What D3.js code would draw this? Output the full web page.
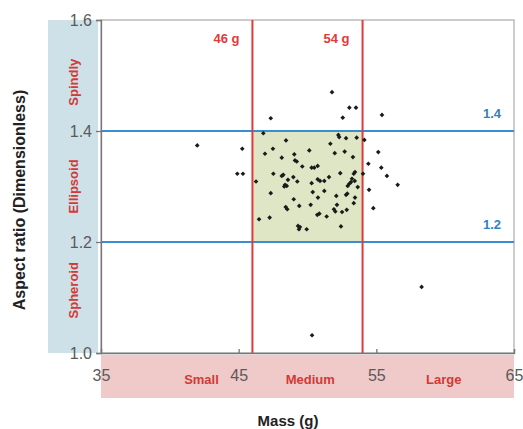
<!DOCTYPE html>
<html>
<head>
<meta charset="utf-8">
<script src="https://cdn.jsdelivr.net/npm/d3@7"></script>
<style>
  body { margin: 0; background: #fff; }
  text { font-family: "Liberation Sans", Arial, sans-serif; }
</style>
</head>
<body>
<script>
// data
var mass = [51.78, 53.04, 53.52, 52.56, 55.41, 47.33, 41.99, 45.26, 44.90, 45.31,
  46.79, 48.44, 52.24, 52.30, 52.80, 53.57, 54.13, 51.66, 46.91, 47.49,
  50.13, 51.98, 52.70, 55.14, 48.13, 49.04, 49.09, 49.22, 53.30, 54.42,
  49.62, 50.30, 50.49, 50.74, 55.36, 46.26, 47.52, 48.13, 48.24, 48.58,
  48.97, 49.26, 48.37, 48.49, 48.31, 50.30, 50.74, 50.91, 51.22, 51.56,
  52.38, 53.45, 53.36, 53.23, 52.92, 53.04, 53.16, 53.43, 53.65, 54.03,
  55.77, 56.55, 54.47, 47.33, 50.38, 51.22, 50.76, 49.00, 52.09, 52.80,
  52.89, 53.45, 53.36, 54.78, 48.42, 48.53, 49.40, 50.23, 52.14, 51.92,
  52.02, 52.51, 52.85, 50.71, 50.86, 51.39, 46.48, 47.25, 49.31, 49.45,
  49.38, 49.94, 52.43, 50.33, 58.29];
var ratio = [1.470, 1.442, 1.442, 1.424, 1.429, 1.423, 1.374, 1.368, 1.323, 1.323,
  1.396, 1.383, 1.393, 1.389, 1.387, 1.388, 1.384, 1.377, 1.359, 1.368,
  1.365, 1.360, 1.363, 1.362, 1.352, 1.358, 1.347, 1.345, 1.353, 1.341,
  1.336, 1.334, 1.334, 1.337, 1.334, 1.309, 1.323, 1.319, 1.321, 1.312,
  1.317, 1.309, 1.303, 1.301, 1.300, 1.306, 1.313, 1.310, 1.310, 1.317,
  1.324, 1.326, 1.323, 1.314, 1.301, 1.305, 1.308, 1.310, 1.299, 1.323,
  1.319, 1.303, 1.294, 1.288, 1.290, 1.292, 1.280, 1.277, 1.283, 1.285,
  1.287, 1.280, 1.270, 1.261, 1.263, 1.259, 1.265, 1.267, 1.267, 1.259,
  1.255, 1.254, 1.258, 1.249, 1.251, 1.246, 1.241, 1.244, 1.229, 1.227,
  1.223, 1.223, 1.228, 1.032, 1.119];

var xTicks = [35, 45, 55, 65];
var yTicks = [1.0, 1.2, 1.4, 1.6];
var massCuts = [46, 54];          // red lines
var ratioCuts = [1.2, 1.4];       // blue lines
var sizeNames = ["Small", "Medium", "Large"];
var sizeAt = [42.3, 50.2, 59.9];
var shapeNames = ["Spheroid", "Ellipsoid", "Spindly"];
var shapeAt = [1.113, 1.3, 1.488];

var W = 523, H = 429;
var svg = d3.select("body").append("svg")
    .attr("width", W)
    .attr("height", H);

var x = d3.scaleLinear().domain([35, 65]).range([101, 514]);
var y = d3.scaleLinear().domain([1.0, 1.6]).range([353, 20]);

var red = "#e2393b", blue = "#3a8dd0", textRed = "#d23a36";

// left blue band and bottom pink band
svg.append("rect")
  .attr("x", 48).attr("y", y(1.6))
  .attr("width", 50).attr("height", y(1.0) - y(1.6))
  .attr("fill", "#cee0e8");
svg.append("rect")
  .attr("x", x(35)).attr("y", 355)
  .attr("width", x(65) - x(35)).attr("height", 43)
  .attr("fill", "#f0c9c9");

// green box (medium, ellipsoid)
svg.append("rect")
  .attr("x", x(massCuts[0])).attr("y", y(ratioCuts[1]))
  .attr("width", x(massCuts[1]) - x(massCuts[0]))
  .attr("height", y(ratioCuts[0]) - y(ratioCuts[1]))
  .attr("fill", "#dee6c6");

// frame
svg.append("rect")
  .attr("x", x(35)).attr("y", y(1.6))
  .attr("width", x(65) - x(35)).attr("height", y(1.0) - y(1.6))
  .attr("fill", "none").attr("stroke", "#9a9a9a").attr("stroke-width", 1);

// blue horizontal lines
svg.selectAll(".hline").data(ratioCuts).enter().append("line")
  .attr("x1", x(35)).attr("x2", x(65))
  .attr("y1", function(d){ return y(d); })
  .attr("y2", function(d){ return y(d); })
  .attr("stroke", blue).attr("stroke-width", 2);

// red vertical lines
svg.selectAll(".vline").data(massCuts).enter().append("line")
  .attr("x1", function(d){ return x(d); })
  .attr("x2", function(d){ return x(d); })
  .attr("y1", y(1.6)).attr("y2", y(1.0))
  .attr("stroke", red).attr("stroke-width", 2);

// axes
var gy = svg.append("g")
  .attr("transform", "translate(" + x(35) + ",0)")
  .call(d3.axisLeft(y).tickValues(yTicks).tickFormat(d3.format(".1f")).tickSize(5).tickPadding(4));
var gx = svg.append("g")
  .attr("transform", "translate(0," + y(1.0) + ")")
  .call(d3.axisBottom(x).tickValues(xTicks).tickSize(-4).tickPadding(17));
[gx, gy].forEach(function(g){
  g.select(".domain").attr("stroke", "#777").attr("stroke-width", 1.3);
  g.selectAll(".tick line").attr("stroke", "#777").attr("stroke-width", 1.3);
  g.selectAll(".tick text")
    .attr("fill", "#5a5a5a")
    .style("font-family", "'Liberation Sans', Arial, sans-serif")
    .style("font-size", "16px");
});
gy.selectAll(".tick text").attr("dy", "0.36em");

// points
svg.selectAll(".pt").data(mass).enter().append("path")
  .attr("class", "pt")
  .attr("d", d3.symbol().type(d3.symbolDiamond2).size(14))
  .attr("transform", function(d, i){
    return "translate(" + x(d) + "," + y(ratio[i]) + ")";
  })
  .attr("fill", "#1a1a1a");

// labels on the cut lines
svg.selectAll(".mlab").data(massCuts).enter().append("text")
  .attr("x", function(d){ return x(d) - 26; })
  .attr("y", 43)
  .attr("text-anchor", "middle")
  .attr("font-size", 13).attr("font-weight", "bold")
  .attr("fill", red)
  .text(function(d){ return d + " g"; });
svg.selectAll(".rlab").data(ratioCuts).enter().append("text")
  .attr("x", 492)
  .attr("y", function(d){ return y(d) - 13; })
  .attr("text-anchor", "middle")
  .attr("font-size", 13).attr("font-weight", "bold")
  .attr("fill", "#2f7fc1")
  .text(function(d){ return d.toFixed(1); });

// size category labels
svg.selectAll(".slab").data(sizeNames).enter().append("text")
  .attr("x", function(d, i){ return x(sizeAt[i]); })
  .attr("y", 384)
  .attr("text-anchor", "middle")
  .attr("font-size", 13).attr("font-weight", "bold")
  .attr("fill", textRed)
  .text(function(d){ return d; });

// shape category labels
svg.selectAll(".shlab").data(shapeNames).enter().append("text")
  .attr("transform", function(d, i){
    return "translate(78," + y(shapeAt[i]) + ") rotate(-90)";
  })
  .attr("text-anchor", "middle")
  .attr("font-size", 13).attr("font-weight", "bold")
  .attr("fill", textRed)
  .text(function(d){ return d; });

// axis titles
svg.append("text")
  .attr("transform", "translate(25,200) rotate(-90)")
  .attr("text-anchor", "middle")
  .attr("font-size", 16).attr("font-weight", "bold")
  .attr("fill", "#222")
  .text("Aspect ratio (Dimensionless)");
svg.append("text")
  .attr("x", 288).attr("y", 426)
  .attr("text-anchor", "middle")
  .attr("font-size", 15).attr("font-weight", "bold")
  .attr("fill", "#222")
  .text("Mass (g)");
</script>
</body>
</html>
